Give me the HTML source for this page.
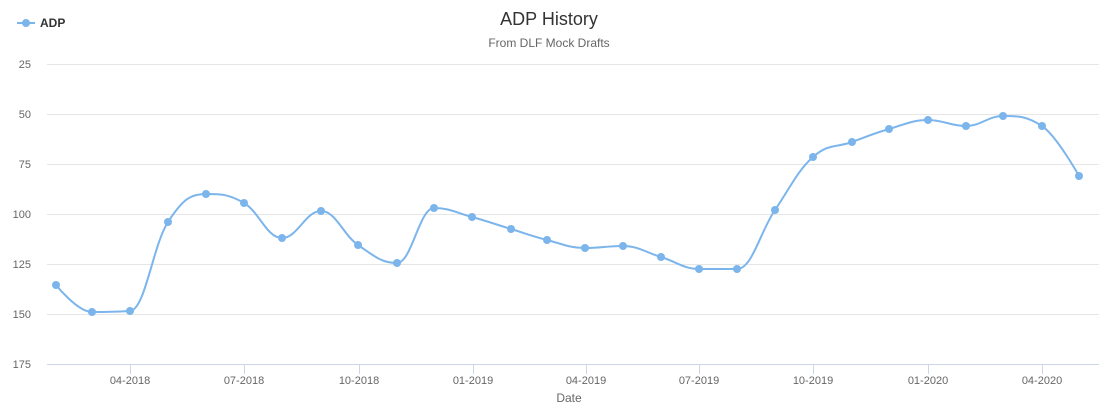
<!DOCTYPE html>
<html><head><meta charset="utf-8"><style>
body{margin:0;background:#fff;width:1099px;height:405px;overflow:hidden;font-family:"Liberation Sans",sans-serif}
</style></head><body>
<svg id="s" width="1099" height="405" xmlns="http://www.w3.org/2000/svg" font-family="Liberation Sans, sans-serif">
<text x="549" y="25" text-anchor="middle" font-size="18" fill="#333">ADP History</text>
<text x="549" y="47" text-anchor="middle" font-size="12" fill="#666">From DLF Mock Drafts</text>
<line x1="17" y1="23" x2="35" y2="23" stroke="#7cb5ec" stroke-width="2"/>
<circle cx="26" cy="23" r="4" fill="#7cb5ec"/>
<text x="40" y="27" font-size="12" font-weight="bold" fill="#333">ADP</text>
<g stroke="#e6e6e6" stroke-width="1">
<line x1="47" y1="64.5" x2="1099" y2="64.5"/><line x1="47" y1="114.5" x2="1099" y2="114.5"/>
<line x1="47" y1="164.5" x2="1099" y2="164.5"/><line x1="47" y1="214.5" x2="1099" y2="214.5"/>
<line x1="47" y1="264.5" x2="1099" y2="264.5"/><line x1="47" y1="314.5" x2="1099" y2="314.5"/>
</g>
<line x1="47" y1="364.5" x2="1099" y2="364.5" stroke="#ccd6eb"/>
<g font-size="11" fill="#666" text-anchor="end">
<text x="31" y="68">25</text><text x="31" y="118">50</text><text x="31" y="168">75</text>
<text x="31" y="218">100</text><text x="31" y="268">125</text><text x="31" y="318">150</text><text x="31" y="368">175</text>
</g>
<g id="ticks" stroke="#ccd6eb"></g>
<g font-size="11" fill="#666" text-anchor="middle" id="xl"></g>
<text x="569" y="402" text-anchor="middle" font-size="12" fill="#666">Date</text>
<path id="ln" fill="none" stroke="#7cb5ec" stroke-width="2"/>
<g id="pts" fill="#7cb5ec"></g>
</svg>
<script>
var P=[[56,285],[92,312],[130,311],[168,222],[206,194],[244,203],[282,238],[321,211],[358,245],[397,263],[434,208],[472,217],[511,229],[547,240],[585,248],[623,246],[661,257],[699,269],[737,269],[775,210],[813,157],[852,142],[889,129],[928,120],[966,126],[1003,116],[1042,126],[1079,176]];
var ns="http://www.w3.org/2000/svg";
var n=P.length,L=[],R=[],sm=1.5,den=2.5;
for(var i=0;i<n;i++){
 var x=P[i][0],y=P[i][1];
 if(i==0||i==n-1){L[i]=[x,y];R[i]=[x,y];continue;}
 var lx=P[i-1][0],ly=P[i-1][1],nx=P[i+1][0],ny=P[i+1][1];
 var lcx=(sm*x+lx)/den,lcy=(sm*y+ly)/den,rcx=(sm*x+nx)/den,rcy=(sm*y+ny)/den;
 var c=((rcy-lcy)*(rcx-x))/(rcx-lcx)+y-rcy;
 lcy+=c;rcy+=c;
 if(lcy>ly&&lcy>y){lcy=Math.max(ly,y);rcy=2*y-lcy;}
 else if(lcy<ly&&lcy<y){lcy=Math.min(ly,y);rcy=2*y-lcy;}
 if(rcy>ny&&rcy>y){rcy=Math.max(ny,y);lcy=2*y-rcy;}
 else if(rcy<ny&&rcy<y){rcy=Math.min(ny,y);lcy=2*y-rcy;}
 L[i]=[lcx,lcy];R[i]=[rcx,rcy];
}
var d="M"+P[0][0]+" "+P[0][1];
for(var i=1;i<n;i++){d+=" C"+R[i-1][0]+" "+R[i-1][1]+" "+L[i][0]+" "+L[i][1]+" "+P[i][0]+" "+P[i][1];}
document.getElementById("ln").setAttribute("d",d);
var g=document.getElementById("pts");
P.forEach(function(p){var c=document.createElementNS(ns,"circle");c.setAttribute("cx",p[0]);c.setAttribute("cy",p[1]);c.setAttribute("r",4);g.appendChild(c);});
var T=[[130,"04-2018"],[244,"07-2018"],[359,"10-2018"],[473,"01-2019"],[586,"04-2019"],[699,"07-2019"],[813,"10-2019"],[928,"01-2020"],[1042,"04-2020"]];
var tg=document.getElementById("ticks"),xl=document.getElementById("xl");
T.forEach(function(t){var l=document.createElementNS(ns,"line");l.setAttribute("x1",t[0]+.5);l.setAttribute("x2",t[0]+.5);l.setAttribute("y1",364);l.setAttribute("y2",374);tg.appendChild(l);
var x=document.createElementNS(ns,"text");x.setAttribute("x",t[0]);x.setAttribute("y",384);x.textContent=t[1];xl.appendChild(x);});
</script>
</body></html>
